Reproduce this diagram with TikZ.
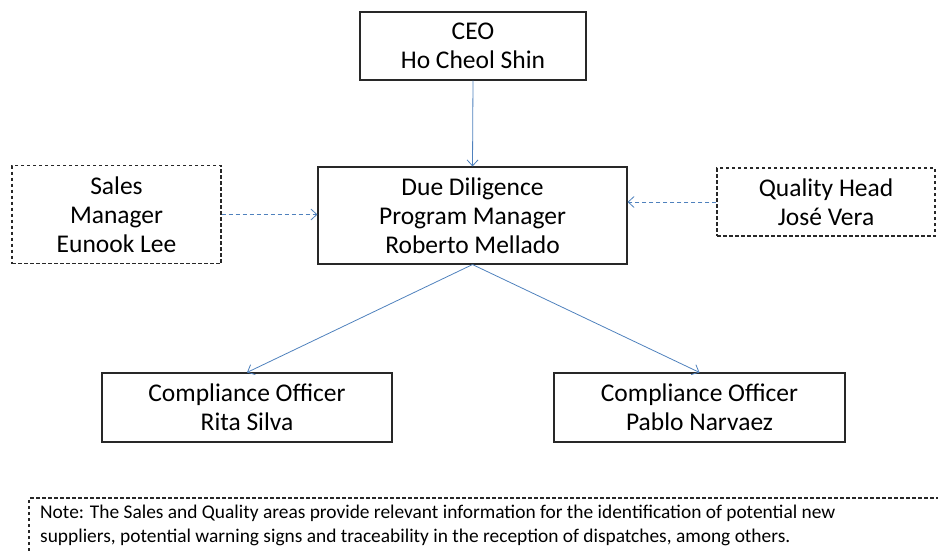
\documentclass[tikz,border=0pt]{standalone}
\usepackage{fontspec}
\setmainfont{Carlito}
\usetikzlibrary{arrows.meta}
\definecolor{linkblue}{RGB}{79,129,189}
\definecolor{boxline}{RGB}{40,40,40}
\tikzset{
  orgbox/.style={draw=boxline, line width=1.1pt, align=center, inner sep=0pt,
    font=\fontsize{25.5}{29}\selectfont},
  dashbox/.style={orgbox, dash pattern=on 3.5pt off 2.5pt},
  link/.style={draw=linkblue, line width=0.8pt, -{Straight Barb[length=6pt,width=11pt]}},
  dlink/.style={link, dash pattern=on 4pt off 3pt},
}
\begin{document}
\begin{tikzpicture}[x=1pt,y=-1pt]
\useasboundingbox (0,0) rectangle (938,550);
\node[orgbox, minimum width=226pt, minimum height=68pt] (ceo) at (473,46) {CEO\\Ho Cheol Shin};
\node[orgbox, minimum width=309pt, minimum height=97pt] (dd) at (472.5,215.5) {Due Diligence\\Program Manager\\Roberto Mellado};
\node[dashbox, minimum width=209pt, minimum height=98pt] (sales) at (116.5,214.5) {Sales\\Manager\\Eunook Lee};
\node[dashbox, minimum width=218pt, minimum height=68pt] (qual) at (826,202) {Quality Head\\José Vera};
\node[orgbox, minimum width=290pt, minimum height=69pt] (rita) at (247,407.5) {Compliance Officer\\Rita Silva};
\node[orgbox, minimum width=291pt, minimum height=69pt] (pablo) at (699.5,407.5) {Compliance Officer\\Pablo Narvaez};
\node[anchor=north west, align=left, inner sep=0pt, font=\fontsize{19.4}{24}\selectfont] (note) at (40,505)
  {Note: The Sales and Quality areas provide relevant information for the identification of potential new\\
   suppliers, potential warning signs and traceability in the reception of dispatches, among others.};
\coordinate (nbl) at (29,551);
\coordinate (ntl) at (29,498);
\coordinate (ntr) at (939,498);
\draw[draw=boxline, line width=1.1pt, dash pattern=on 3.5pt off 2.5pt] (nbl) -- (ntl) -- (ntr);
\draw[link] (ceo.south) -- (dd.north);
\draw[dlink] (sales.east) -- (sales.east -| dd.west);
\draw[dlink] (qual.west) -- (qual.west -| dd.east);
\draw[link] (dd.south) -- (rita.north);
\draw[link] (dd.south) -- (pablo.north);
\end{tikzpicture}
\end{document}
